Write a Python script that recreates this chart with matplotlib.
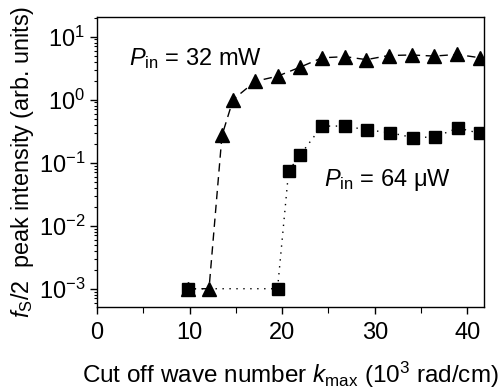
import matplotlib
matplotlib.use("Agg")
import matplotlib.pyplot as plt
from matplotlib.ticker import LogLocator, NullFormatter

plt.rcParams['font.family'] = ['Liberation Sans', 'DejaVu Sans']
plt.rcParams['mathtext.fontset'] = 'custom'
plt.rcParams['mathtext.rm'] = 'Liberation Sans'
plt.rcParams['mathtext.it'] = 'Liberation Sans:italic'

k_tri = [9.8, 12.1, 13.5, 14.7, 17.1, 19.5, 21.9, 24.3, 26.8, 29.1, 31.5, 34.0, 36.4, 38.9, 41.4]
I_tri = [1e-3, 1e-3, 0.27, 1.0, 1.95, 2.35, 3.25, 4.6, 4.8, 4.3, 5.0, 5.1, 4.9, 5.2, 4.6]

k_sq = [9.8, 19.5, 20.7, 21.9, 24.3, 26.8, 29.2, 31.6, 34.1, 36.5, 39.0, 41.4]
I_sq = [1e-3, 1e-3, 0.074, 0.13, 0.38, 0.38, 0.33, 0.30, 0.25, 0.255, 0.355, 0.29]

x_ticks = [0, 10, 20, 30, 40]

fig = plt.figure(figsize=(5.03, 3.89), dpi=100)
ax = fig.add_axes([97/503, 1-307/389, (484-97)/503, (307-17)/389])

ax.plot(k_tri, I_tri, color='black', linestyle=(0, (6, 4)), linewidth=1.0,
        marker='^', markersize=9.5, zorder=3)
ax.plot(k_sq, I_sq, color='black', linestyle=(0, (1, 4)), linewidth=1.0,
        marker='s', markersize=8, zorder=3)

ax.set_yscale('log')
ax.set_xlim(0, 41.8)
ax.set_ylim(10**-3.29, 10**1.31)
ax.set_xticks(x_ticks)
ax.set_xticks([5, 15, 25, 35], minor=True)
ax.yaxis.set_major_locator(LogLocator(base=10, numticks=10))
ax.yaxis.set_minor_locator(LogLocator(base=10, subs=range(2, 10), numticks=10))
ax.yaxis.set_minor_formatter(NullFormatter())

ax.tick_params(axis='both', which='major', direction='out', length=5, width=1, labelsize=17)
ax.tick_params(axis='x', which='major', pad=6)
ax.tick_params(axis='both', which='minor', direction='out', length=2, width=0.8)
ax.tick_params(axis='x', which='minor', length=4)
for s in ax.spines.values():
    s.set_linewidth(1.0)

ax.set_xlabel(r'Cut off wave number $\it{k}_{\rm max}$ (10$^{3}$ rad/cm)', fontsize=17.5, labelpad=11)
ax.set_ylabel(r'$\it{f}_{\rm S}$/2  peak intensity (arb. units)', fontsize=16.8, labelpad=2)

ax.text(3.5, 3.5, r'$\it{P}_{\rm in}$ = 32 mW', fontsize=17, va='baseline')
ax.text(24.5, 0.043, r'$\it{P}_{\rm in}$ = 64 $\rm\mu$W', fontsize=17, va='baseline')

fig.savefig('out.png', dpi=100)
